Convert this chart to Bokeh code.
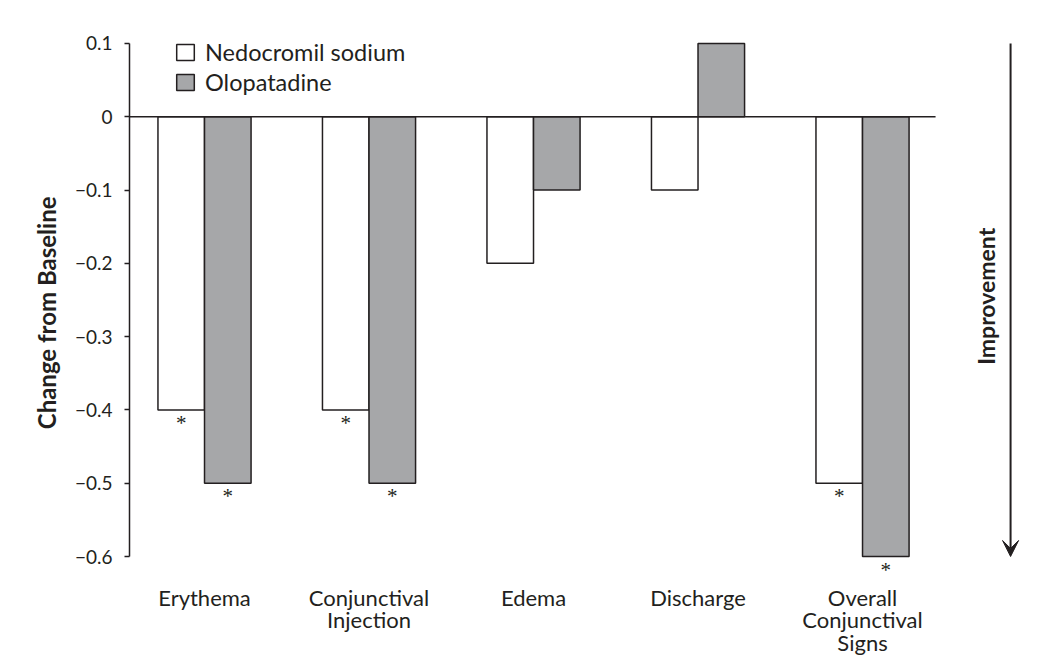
import math
from bokeh.plotting import figure
from bokeh.models import (ColumnDataSource, Range1d, FixedTicker, Legend, LegendItem,
                          Arrow, VeeHead, Label, Title)
from bokeh.core.properties import value
from bokeh.embed import file_html
from bokeh.resources import INLINE

categories = ["Erythema", "Conjunctival\nInjection", "Edema", "Discharge",
              "Overall\nConjunctival\nSigns"]
nedocromil = [-0.4, -0.4, -0.2, -0.1, -0.5]
olopatadine = [-0.5, -0.5, -0.1, 0.1, -0.6]
ned_sig = [True, True, False, False, True]
olo_sig = [True, True, False, False, True]
y_ticks = [0.1, 0, -0.1, -0.2, -0.3, -0.4, -0.5, -0.6]
series_names = ["Nedocromil sodium", "Olopatadine"]

FONT = "Lato"
INK = "#231f20"
GREY = "#a6a7a9"
BW = 0.283
idx = list(range(len(categories)))
Y_MIN, Y_MAX = min(y_ticks), max(y_ticks)

p = figure(width=1041, height=660, output_backend="svg", toolbar_location=None,
           x_range=Range1d(-0.456, 5.088), y_range=Range1d(-0.7419, 0.13136),
           min_border_left=129, min_border_right=0, min_border_top=20, min_border_bottom=0)
p.outline_line_color = None
p.xgrid.visible = False
p.ygrid.visible = False
p.xaxis.visible = False
p.background_fill_color = "white"
p.border_fill_color = "white"

src_n = ColumnDataSource(dict(x=[i - BW / 2 for i in idx], top=nedocromil))
src_o = ColumnDataSource(dict(x=[i + BW / 2 for i in idx], top=olopatadine))
rn = p.vbar(x="x", top="top", bottom=0, width=BW, source=src_n,
            fill_color="white", line_color=INK, line_width=1.5)
ro = p.vbar(x="x", top="top", bottom=0, width=BW, source=src_o,
            fill_color=GREY, line_color=INK, line_width=1.5)

# zero line
p.segment(x0=[-0.456], y0=[0], x1=[4.444], y1=[0], line_color=INK, line_width=1.5)

# significance asterisks
ax = [i - BW / 2 for i in idx if ned_sig[i]] + [i + BW / 2 for i in idx if olo_sig[i]]
ay = [nedocromil[i] for i in idx if ned_sig[i]] + [olopatadine[i] for i in idx if olo_sig[i]]
p.text(x=ax, y=ay, text=["*"] * len(ax), y_offset=13, text_align="center",
       text_baseline="middle", text_font=value("Liberation Serif"), text_font_size="21px",
       text_color=INK)

# category labels below the axis minimum
p.text(x=idx, y=[Y_MIN] * len(idx), text=categories, y_offset=27, text_align="center",
       text_baseline="top", text_font=value(FONT), text_font_size="22px",
       text_line_height=0.85, text_color=INK)

# y axis
yax = p.yaxis[0]
yax.bounds = (Y_MIN, Y_MAX)
yax.ticker = FixedTicker(ticks=y_ticks)
yax.major_label_overrides = {t: ("0" if t == 0 else f"{t:.1f}".replace("-", "\u2212")) for t in y_ticks}
yax.minor_tick_line_color = None
yax.major_tick_in = 0
yax.major_tick_out = 5
yax.axis_line_width = 1.5
yax.axis_line_color = INK
yax.major_tick_line_color = INK
yax.major_tick_line_width = 1.5
yax.major_label_text_font = FONT
yax.major_label_text_font_size = "19px"
yax.major_label_text_color = INK
yax.major_label_standoff = 12

# y axis title, placed along the axis extent
p.add_layout(Title(text="Change from Baseline", align="right", offset=176,
                   vertical_align="middle", standoff=19,
                   text_font=FONT, text_font_style="bold", text_font_size="24px",
                   text_color=INK), "left")

# legend
legend = Legend(items=[LegendItem(label=series_names[0], renderers=[rn]),
                       LegendItem(label=series_names[1], renderers=[ro])],
                location=(45, 564), orientation="vertical",
                glyph_width=22, glyph_height=20, label_height=20, spacing=2,
                label_standoff=9, padding=0, margin=0,
                border_line_color=None, background_fill_alpha=0,
                label_text_font=FONT, label_text_font_size="23.5px", label_text_color=INK)
p.add_layout(legend)

# improvement arrow
p.add_layout(Arrow(x_start=4.9, y_start=Y_MAX, x_end=4.9, y_end=Y_MIN,
                   line_color=INK, line_width=2,
                   end=VeeHead(size=16, fill_color=INK, line_color=INK)))
p.add_layout(Label(x=4.748, y=-0.245, text="Improvement", angle=math.pi / 2,
                   text_align="center", text_baseline="middle", text_font=FONT,
                   text_font_style="bold", text_font_size="23px", text_color=INK))

open("out.html", "w").write(file_html(p, INLINE))
